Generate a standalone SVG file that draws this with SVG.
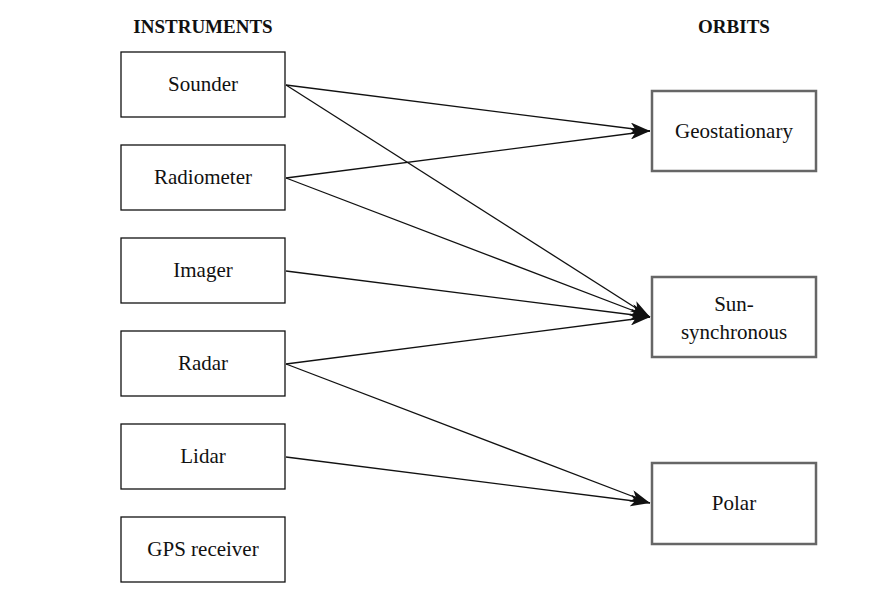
<svg xmlns="http://www.w3.org/2000/svg" width="870" height="610" viewBox="0 0 870 610">
<style>
.l{fill:#fff;stroke:#111;stroke-width:1.3}
.r{fill:#fff;stroke:#666;stroke-width:2.5}
text{font-family:"Liberation Serif",serif;font-size:21px;fill:#111;text-anchor:middle}
.h{font-weight:bold;font-size:19px}
.c line{stroke:#111;stroke-width:1.3;marker-end:url(#a)}
</style>
<defs><marker id="a" viewBox="0 0 20 12" refX="20" refY="6" markerWidth="20" markerHeight="12" markerUnits="userSpaceOnUse" orient="auto"><path d="M0,0L20,6L0,12L5,6Z" fill="#111"/></marker></defs>
<rect width="870" height="610" fill="#fff"/>
<text class="h" x="203" y="33">INSTRUMENTS</text>
<text class="h" x="734" y="33">ORBITS</text>
<g id="sounder"><rect class="l" x="121" y="52" width="164" height="65"/><text x="203" y="91">Sounder</text></g>
<g id="radiometer"><rect class="l" x="121" y="145" width="164" height="65"/><text x="203" y="184">Radiometer</text></g>
<g id="imager"><rect class="l" x="121" y="238" width="164" height="65"/><text x="203" y="277">Imager</text></g>
<g id="radar"><rect class="l" x="121" y="331" width="164" height="65"/><text x="203" y="370">Radar</text></g>
<g id="lidar"><rect class="l" x="121" y="424" width="164" height="65"/><text x="203" y="463">Lidar</text></g>
<g id="gps"><rect class="l" x="121" y="517" width="164" height="65"/><text x="203" y="556">GPS receiver</text></g>
<g id="geo"><rect class="r" x="652" y="91" width="164" height="80"/><text x="734" y="138">Geostationary</text></g>
<g id="sun"><rect class="r" x="652" y="277" width="164" height="80"/><text x="734" y="311">Sun-</text><text x="734" y="339">synchronous</text></g>
<g id="polar"><rect class="r" x="652" y="463" width="164" height="81"/><text x="734" y="510">Polar</text></g>
<g class="c">
<line x1="286" y1="85" x2="650" y2="131"/>
<line x1="286" y1="85" x2="650" y2="317"/>
<line x1="286" y1="178" x2="650" y2="131"/>
<line x1="286" y1="178" x2="650" y2="317"/>
<line x1="286" y1="271" x2="650" y2="317"/>
<line x1="286" y1="364" x2="650" y2="317"/>
<line x1="286" y1="364" x2="650" y2="503"/>
<line x1="286" y1="457" x2="650" y2="503"/>
</g>
</svg>
